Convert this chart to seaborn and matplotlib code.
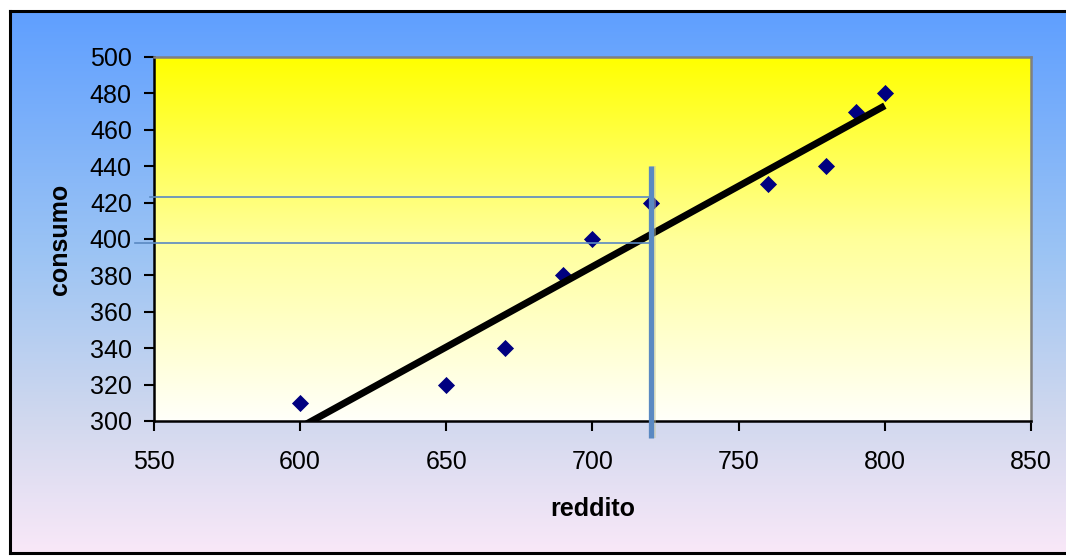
import numpy as np
import pandas as pd
import matplotlib
matplotlib.use("Agg")
import matplotlib.pyplot as plt
from matplotlib.colors import LinearSegmentedColormap
from matplotlib.transforms import ScaledTranslation
import seaborn as sns

# Income (reddito) and consumption (consumo) observations
reddito = [600, 650, 670, 690, 700, 720, 760, 780, 790, 800]
consumo = [310, 320, 340, 380, 400, 420, 430, 440, 470, 480]

# Reading guides: income level and the two consumption levels
guida_x = 720
guida_y = [423, 398]

x_ticks = [550, 600, 650, 700, 750, 800, 850]
y_ticks = [300, 320, 340, 360, 380, 400, 420, 440, 460, 480, 500]

df = pd.DataFrame({"reddito": reddito, "consumo": consumo})

plt.rcParams["font.family"] = ["Liberation Sans", "DejaVu Sans"]

fig = plt.figure(figsize=(10.66, 5.56), dpi=100)
fig.patch.set_facecolor("white")

# Chart-area background: blue to pink vertical gradient with a black frame
bg = fig.add_axes([10 / 1066, 3 / 556, 1.0, 542 / 556], zorder=0)
bg_cmap = LinearSegmentedColormap.from_list(
    "bg", [(0.0, "#5f9fff"), (0.45, "#9cc4f4"), (0.75, "#d0d8ee"), (1.0, "#f9e8f8")])
bg.imshow(np.linspace(0, 1, 256).reshape(-1, 1), cmap=bg_cmap, aspect="auto",
          extent=[0, 1, 0, 1], origin="upper")
bg.set_xlim(0, 1)
bg.set_ylim(0, 1)
bg.set_xticks([])
bg.set_yticks([])
for s in bg.spines.values():
    s.set_color("black")
    s.set_linewidth(2.2)

ax = fig.add_axes([154 / 1066, 1 - 421 / 556, 877 / 1066, 364 / 556], zorder=1)

# Plot-area background: yellow fading to white
pa_cmap = LinearSegmentedColormap.from_list("pa", ["#ffff00", "#ffff9a", "#fffffa"])
ax.imshow(np.linspace(0, 1, 256).reshape(-1, 1), cmap=pa_cmap, aspect="auto",
          extent=[550, 850, 300, 500], origin="upper", zorder=0)

sns.regplot(data=df, x="reddito", y="consumo", ax=ax, ci=None, marker="D",
            scatter_kws={"s": 76, "color": "#000080", "alpha": 1.0,
                         "linewidths": 0, "zorder": 3},
            line_kws={"color": "black", "linewidth": 5, "zorder": 4,
                      "solid_capstyle": "butt"})

# Guide lines (vertical one with a soft shadow)
shadow = ax.transData + ScaledTranslation(2 / 100, 0, fig.dpi_scale_trans)
ax.plot([guida_x, guida_x], [290.5, 440], color="#c8c8a0", linewidth=4.2,
        alpha=0.5, zorder=5, clip_on=False, solid_capstyle="butt", transform=shadow)
ax.plot([guida_x, guida_x], [290.5, 440], color="#5a89c2", linewidth=3.8,
        zorder=6, clip_on=False, solid_capstyle="butt")
ax.plot([548.6, guida_x], [guida_y[0], guida_y[0]], color="#5a89c2", linewidth=1.2,
        zorder=5, clip_on=False)
ax.plot([543.5, guida_x], [guida_y[1], guida_y[1]], color="#5a89c2", linewidth=1.2,
        zorder=5, clip_on=False)

ax.set_xlim(550, 850)
ax.set_ylim(300, 500)
ax.set_xticks(x_ticks)
ax.set_yticks(y_ticks)
ax.set_xticklabels([str(v) for v in x_ticks])
ax.set_yticklabels([str(v) for v in y_ticks])
ax.tick_params(axis="both", direction="out", length=7, width=1.5, labelsize=18,
               color="black", labelcolor="black")
ax.tick_params(axis="x", pad=14)
ax.tick_params(axis="y", pad=9)

ax.set_xlabel("reddito", fontsize=18, fontweight="bold")
ax.set_ylabel("consumo", fontsize=18, fontweight="bold")
ax.xaxis.set_label_coords(0.5, -0.21)
ax.yaxis.set_label_coords(-0.093, 0.5)

for side in ("left", "bottom"):
    ax.spines[side].set_color("black")
    ax.spines[side].set_linewidth(1.8)
for side in ("top", "right"):
    ax.spines[side].set_color("#808080")
    ax.spines[side].set_linewidth(1.8)

fig.savefig("out.png", dpi=100, facecolor=fig.get_facecolor())
